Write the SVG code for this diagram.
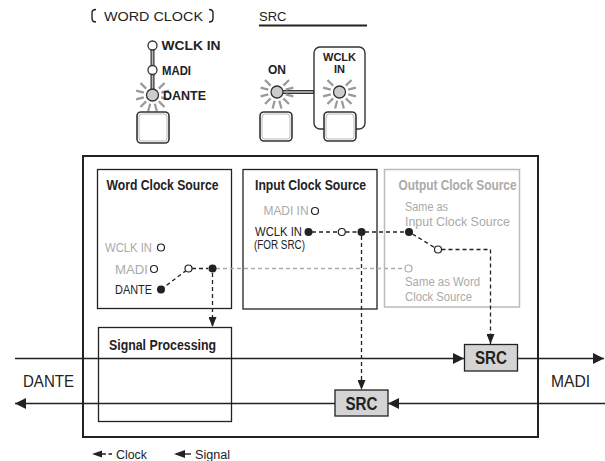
<svg xmlns="http://www.w3.org/2000/svg" xmlns:xlink="http://www.w3.org/1999/xlink" width="605" height="461" viewBox="0 0 605 461">
<style>
 text{font-family:"Liberation Sans Narrow","Liberation Sans",Arial,sans-serif;}
 .pnl{font-family:"Liberation Sans",Arial,sans-serif;fill:#222;font-size:13px;}
 .pnlb{font-family:"Liberation Sans",Arial,sans-serif;fill:#222;font-size:12px;font-weight:bold;}
 .pnls{font-family:"Liberation Sans",Arial,sans-serif;fill:#222;font-size:11px;font-weight:bold;}
 .ttl{font-weight:bold;font-size:14px;fill:#222;}
 .ttlg{font-weight:bold;font-size:14px;fill:#aaa;}
 .lbl{font-size:12.5px;fill:#222;}
 .lblg{font-size:12.5px;fill:#aaa;}
 .big{font-size:17px;fill:#222;}
 .box{fill:none;stroke:#222;stroke-width:1.3;}
 .boxg{fill:none;stroke:#bbb;stroke-width:1.5;}
 .outer{fill:none;stroke:#222;stroke-width:2;}
 .clk{fill:none;stroke:#222;stroke-width:1.3;stroke-dasharray:4 3;}
 .clkg{fill:none;stroke:#aaa;stroke-width:1.3;stroke-dasharray:4 3;}
 .sig{fill:none;stroke:#222;stroke-width:1.3;}
 .dot{fill:#222;}
 .open{fill:#fff;stroke:#222;stroke-width:1.2;}
 .openg{fill:#fff;stroke:#aaa;stroke-width:1.2;}
 .src{fill:#d4d4d4;stroke:#222;stroke-width:1.3;}
 .srct{font-weight:bold;font-size:18px;fill:#222;text-anchor:middle;}
 .ray{stroke:#999;stroke-width:2.2;fill:none;}
 .led{fill:#ccc;stroke:#333;stroke-width:1.3;}
 .ledo{fill:#fff;stroke:#333;stroke-width:1.3;}
 .btn{fill:#fff;stroke:#333;stroke-width:1.6;}
 .btni{fill:none;stroke:#aaa;stroke-width:0.8;}
 .dbl{stroke:#333;stroke-width:4;fill:none;}
 .dbli{stroke:#bbb;stroke-width:1.6;fill:none;}
</style>
<defs>
 <marker id="sa" markerUnits="userSpaceOnUse" markerWidth="12" markerHeight="12" viewBox="0 0 12 12" refX="11" refY="6" orient="auto">
  <path d="M0,0.5 L11,6 L0,11.5Z" fill="#222"/>
 </marker>
 <marker id="ca" markerUnits="userSpaceOnUse" markerWidth="10" markerHeight="8" viewBox="0 0 10 8" refX="10" refY="4" orient="auto">
  <path d="M0,0 L10,4 L0,8Z" fill="#222"/>
 </marker>
 <path id="rays" class="ray" d="M8.69,2.33L16.42,4.4 M6.36,6.36L12.02,12.02 M2.33,8.69L4.4,16.42 M-2.33,8.69L-4.4,16.42 M-6.36,6.36L-12.02,12.02 M-8.69,2.33L-16.42,4.4 M-8.69,-2.33L-16.42,-4.4 M-6.36,-6.36L-12.02,-12.02 M6.36,-6.36L12.02,-12.02 M8.69,-2.33L16.42,-4.4"/>
</defs>

<g id="panel">
 <g id="word-clock-panel">
  <path d="M96,9.5 Q92,9.5 92,13 V18.5 Q92,22 96,22 M209,9.5 Q213,9.5 213,13 V18.5 Q213,22 209,22" fill="none" stroke="#222" stroke-width="1.4"/>
  <text class="pnl" x="104" y="20.5" textLength="99" lengthAdjust="spacingAndGlyphs">WORD CLOCK</text>
  <path class="dbl" d="M152.5,49 V90"/>
  <path class="dbli" d="M152.5,49 V90"/>
  <circle class="ledo" cx="152.5" cy="45.5" r="4.5"/>
  <circle class="ledo" cx="152.5" cy="70" r="4.5"/>
  <use xlink:href="#rays" href="#rays" x="152.5" y="95"/>
  <circle class="led" cx="152.5" cy="95" r="6"/>
  <text class="pnlb" x="161.5" y="50" textLength="59" lengthAdjust="spacingAndGlyphs">WCLK IN</text>
  <text class="pnlb" x="162" y="74.5" textLength="29" lengthAdjust="spacingAndGlyphs">MADI</text>
  <text class="pnlb" x="163" y="100" textLength="43" lengthAdjust="spacingAndGlyphs">DANTE</text>
  <rect class="btn" x="137" y="112" width="32" height="31" rx="4"/>
  <rect class="btni" x="139" y="114" width="28" height="27" rx="3"/>
 </g>
 <g id="src-panel">
  <text class="pnl" x="259" y="20.5">SRC</text>
  <path d="M259,25.5 H367" stroke="#222" stroke-width="2"/>
  <rect x="314" y="47" width="51" height="82" rx="6" fill="none" stroke="#333" stroke-width="1.4"/>
  <path class="dbl" d="M283,92 H314"/>
  <path class="dbli" d="M282,92 H313"/>
  <text class="pnlb" x="277" y="73.5" text-anchor="middle">ON</text>
  <text class="pnls" x="339.5" y="61" text-anchor="middle">WCLK</text>
  <text class="pnls" x="339.5" y="73" text-anchor="middle">IN</text>
  <use xlink:href="#rays" href="#rays" x="277" y="92"/>
  <circle class="led" cx="277" cy="92" r="6"/>
  <use xlink:href="#rays" href="#rays" x="339.5" y="92"/>
  <circle class="led" cx="339.5" cy="92" r="6"/>
  <rect class="btn" x="260" y="112" width="32" height="29" rx="4"/>
  <rect class="btni" x="262" y="114" width="28" height="25" rx="3"/>
  <rect class="btn" x="324" y="112" width="32" height="29" rx="4"/>
  <rect class="btni" x="326" y="114" width="28" height="25" rx="3"/>
 </g>
</g>

<g id="device">
 <rect class="outer" x="83" y="156" width="455" height="281"/>
</g>

<g id="word-clock-source">
 <rect class="box" x="97.5" y="169.5" width="134" height="139"/>
 <text class="ttl" x="106.5" y="190" textLength="112" lengthAdjust="spacingAndGlyphs">Word Clock Source</text>
 <text class="lblg" x="105" y="251.5" textLength="47" lengthAdjust="spacingAndGlyphs">WCLK IN</text>
 <text class="lblg" x="115" y="273.5" textLength="33" lengthAdjust="spacingAndGlyphs">MADI</text>
 <text class="lbl" x="115" y="294" textLength="37" lengthAdjust="spacingAndGlyphs">DANTE</text>
</g>

<g id="input-clock-source">
 <rect class="box" x="243" y="169.5" width="134" height="139.5"/>
 <text class="ttl" x="255" y="189.5" textLength="111" lengthAdjust="spacingAndGlyphs">Input Clock Source</text>
 <text class="lblg" x="263.5" y="215" textLength="45" lengthAdjust="spacingAndGlyphs">MADI IN</text>
 <text class="lbl" x="255" y="236" textLength="47" lengthAdjust="spacingAndGlyphs">WCLK IN</text>
 <text class="lbl" x="254" y="248.5" textLength="51" lengthAdjust="spacingAndGlyphs">(FOR SRC)</text>
</g>

<g id="output-clock-source">
 <rect class="boxg" x="384.5" y="169.5" width="135" height="137.5"/>
 <text class="ttlg" x="398.5" y="189.5" textLength="118" lengthAdjust="spacingAndGlyphs">Output Clock Source</text>
 <text class="lblg" x="405" y="210.5" textLength="43" lengthAdjust="spacingAndGlyphs">Same as</text>
 <text class="lblg" x="405" y="225.5" textLength="105" lengthAdjust="spacingAndGlyphs">Input Clock Source</text>
 <text class="lblg" x="405" y="285.5" textLength="75" lengthAdjust="spacingAndGlyphs">Same as Word</text>
 <text class="lblg" x="405" y="300.5" textLength="67" lengthAdjust="spacingAndGlyphs">Clock Source</text>
</g>

<g id="signal-processing">
 <rect class="box" x="98.5" y="327.5" width="133" height="94"/>
 <text class="ttl" x="109" y="350" textLength="107" lengthAdjust="spacingAndGlyphs">Signal Processing</text>
</g>

<g id="src-out">
 <rect class="src" x="464.5" y="344.5" width="53" height="26.5"/>
 <text class="srct" x="491" y="364" textLength="32" lengthAdjust="spacingAndGlyphs">SRC</text>
</g>
<g id="src-in">
 <rect class="src" x="335" y="390" width="53" height="26"/>
 <text class="srct" x="361.5" y="409.5" textLength="32" lengthAdjust="spacingAndGlyphs">SRC</text>
</g>

<g id="port-labels">
 <text class="big" x="23" y="387" textLength="51" lengthAdjust="spacingAndGlyphs">DANTE</text>
 <text class="big" x="551" y="387" textLength="39" lengthAdjust="spacingAndGlyphs">MADI</text>
</g>

<g id="connectors">
 <path class="sig" d="M15,358.5 H464" marker-end="url(#sa)"/>
 <path class="sig" d="M517.5,358.5 H604" marker-end="url(#sa)"/>
 <path class="sig" d="M605,403.5 H388" marker-end="url(#sa)"/>
 <path class="sig" d="M335,403.5 H15" marker-end="url(#sa)"/>
 <path class="clkg" d="M216,268.5 H404.5"/>
 <path class="clk" d="M161,289.5 L185.5,271"/>
 <path class="clk" d="M192,268.5 H208"/>
 <path class="clk" d="M212.5,273 V327" marker-end="url(#ca)"/>
 <path class="clk" d="M312,232 H338"/>
 <path class="clk" d="M345.5,232 H358"/>
 <path class="clk" d="M365,232 H405"/>
 <path class="clk" d="M361.5,236 V390" marker-end="url(#ca)"/>
 <path class="clk" d="M412.5,234 L434.5,247.5"/>
 <path class="clk" d="M441.5,249.5 H490.5 V344" marker-end="url(#ca)"/>
 <circle class="dot" cx="161" cy="289.5" r="4"/>
 <circle class="open" cx="161" cy="247.5" r="3.5"/>
 <circle class="open" cx="154" cy="269" r="3.5"/>
 <circle class="open" cx="188.5" cy="268.5" r="3.5"/>
 <circle class="dot" cx="212.5" cy="268.5" r="4"/>
 <circle class="open" cx="315" cy="211" r="3.5"/>
 <circle class="dot" cx="308.5" cy="232" r="4"/>
 <circle class="open" cx="341.8" cy="232" r="3.5"/>
 <circle class="dot" cx="361.5" cy="232" r="4"/>
 <circle class="dot" cx="409" cy="232" r="4"/>
 <circle class="open" cx="438" cy="249.5" r="3.5"/>
 <circle class="openg" cx="408.5" cy="268.5" r="3.5"/>
</g>

<g id="legend">
 <path d="M92,454 L102,450.5 L102,457.5Z" fill="#222"/>
 <path d="M102,454 H112" stroke="#222" stroke-width="1.3" stroke-dasharray="4 2.5"/>
 <text class="lbl" x="116" y="458.5" textLength="31" lengthAdjust="spacingAndGlyphs">Clock</text>
 <path d="M174,454 L185,450 L185,458Z" fill="#222"/>
 <path d="M185,454 H191" stroke="#222" stroke-width="1.4"/>
 <text class="lbl" x="195" y="458.5" textLength="35" lengthAdjust="spacingAndGlyphs">Signal</text>
</g>
</svg>
